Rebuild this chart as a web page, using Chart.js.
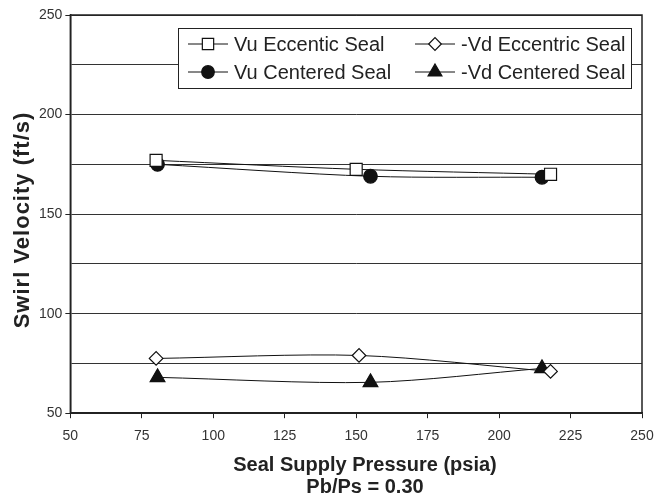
<!DOCTYPE html>
<html>
<head>
<meta charset="utf-8">
<script src="https://cdn.jsdelivr.net/npm/chart.js@4/dist/chart.umd.min.js"></script>
<style>
  html, body { margin: 0; padding: 0; background: #fff; }
  #wrap { width: 669px; height: 495px; }
</style>
</head>
<body>
<div id="wrap"><canvas id="myChart" width="669" height="495"></canvas></div>
<script>
// values
const vuEccX = [80, 150, 218];
const vuEccY = [177, 172.5, 170];
const vuCenX = [80.5, 155, 215];
const vuCenY = [175, 169, 168.5];
const vdEccX = [80, 151, 218];
const vdEccY = [77.5, 79, 71];
const vdCenX = [80.5, 155, 215];
const vdCenY = [68, 65.5, 72.5];

const seriesNames = ['Vu Eccentic Seal', 'Vu Centered Seal', '-Vd Eccentric Seal', '-Vd Centered Seal'];
const xTitle = ['Seal Supply Pressure (psia)', 'Pb/Ps = 0.30'];
const yTitle = 'Swirl Velocity (ft/s)';

const FONT = 'Liberation Sans, Arial, sans-serif';

const toPoints = (xs, ys) => xs.map((x, i) => ({ x: x, y: ys[i] }));

const markers = [
    { pointStyle: 'rect', radius: 8.5, fill: '#fff' },
    { pointStyle: 'circle', radius: 6.8, fill: '#111' },
    { pointStyle: 'rectRot', radius: 6.8, fill: '#fff' },
    { pointStyle: 'triangle', radius: 8.5, fill: '#111' }
];

const makeSet = (i, pts) => ({
    label: seriesNames[i],
    data: pts,
    showLine: true,
    tension: 0.3,
    borderColor: '#111',
    borderWidth: 1,
    pointStyle: markers[i].pointStyle,
    pointRadius: markers[i].radius,
    pointBackgroundColor: markers[i].fill,
    pointBorderColor: '#111',
    pointBorderWidth: 1.2
});

// box around the plot area, plus the axis titles
const frame = {
    id: 'frame',
    afterDraw(chart) {
        const { ctx, chartArea: a } = chart;
        ctx.save();
        ctx.strokeStyle = '#222';
        ctx.lineWidth = 1.5;
        ctx.strokeRect(a.left, a.top, a.right - a.left, a.bottom - a.top);

        ctx.fillStyle = '#222';
        ctx.textAlign = 'center';
        ctx.textBaseline = 'middle';
        ctx.font = 'bold 20px ' + FONT;
        ctx.fillText(xTitle[0], 365, 465);
        ctx.fillText(xTitle[1], 365, 487);

        ctx.translate(23, 220);
        ctx.rotate(-Math.PI / 2);
        ctx.font = 'bold 22px ' + FONT;
        ctx.letterSpacing = '1px';
        ctx.fillText(yTitle, 0, 0);
        ctx.restore();
    }
};

// two column legend drawn in a white box
const legendBox = {
    id: 'legendBox',
    afterDraw(chart) {
        const ctx = chart.ctx;
        const bx = 178, by = 28, bw = 453, bh = 60;
        ctx.save();
        ctx.fillStyle = '#fff';
        ctx.fillRect(bx, by, bw, bh);
        ctx.strokeStyle = '#222';
        ctx.lineWidth = 1;
        ctx.strokeRect(bx + 0.5, by + 0.5, bw, bh);
        const cols = [188, 415];
        const rows = [44, 72];
        const order = [0, 2, 1, 3];
        ctx.font = '20px ' + FONT;
        ctx.textBaseline = 'middle';
        order.forEach((s, k) => {
            const x0 = cols[k % 2];
            const y0 = rows[Math.floor(k / 2)];
            ctx.strokeStyle = '#111';
            ctx.lineWidth = 1;
            ctx.beginPath();
            ctx.moveTo(x0, y0);
            ctx.lineTo(x0 + 40, y0);
            ctx.stroke();
            ctx.fillStyle = markers[s].fill;
            ctx.lineWidth = 1.2;
            Chart.helpers.drawPoint(ctx, {
                pointStyle: markers[s].pointStyle,
                radius: markers[s].radius - 0.5,
                rotation: 0,
                borderWidth: 1.2
            }, x0 + 20, y0);
            ctx.fillStyle = '#222';
            ctx.fillText(seriesNames[s], x0 + 46, y0 + 1);
        });
        ctx.restore();
    }
};

const data = {
    datasets: [
        makeSet(0, toPoints(vuEccX, vuEccY)),
        makeSet(1, toPoints(vuCenX, vuCenY)),
        makeSet(2, toPoints(vdEccX, vdEccY)),
        makeSet(3, toPoints(vdCenX, vdCenY))
    ]
};

const config = {
    type: 'scatter',
    data: data,
    options: {
        responsive: false,
        animation: false,
        layout: { padding: { top: 15, right: 27, left: 36, bottom: 40 } },
        plugins: {
            legend: { display: false },
            tooltip: { enabled: false }
        },
        scales: {
            x: {
                type: 'linear',
                min: 50,
                max: 250,
                ticks: { stepSize: 25, color: '#333', font: { family: FONT, size: 14 }, padding: 10 },
                grid: { drawOnChartArea: false, drawTicks: true, tickLength: 5, color: '#222' },
                border: { color: '#222', width: 1.5 }
            },
            y: {
                type: 'linear',
                min: 50,
                max: 250,
                ticks: {
                    stepSize: 25,
                    color: '#333',
                    font: { family: FONT, size: 14 },
                    padding: 3,
                    callback: v => (v % 50 === 0 ? v : '')
                },
                grid: {
                    color: '#333',
                    lineWidth: 1,
                    tickLength: 5,
                    tickColor: ctx => (ctx.tick && ctx.tick.value % 50 === 0 ? '#222' : 'rgba(0,0,0,0)')
                },
                border: { color: '#222', width: 1.5 }
            }
        }
    },
    plugins: [frame, legendBox]
};

const myChart = new Chart(document.getElementById('myChart'), config);
</script>
</body>
</html>
